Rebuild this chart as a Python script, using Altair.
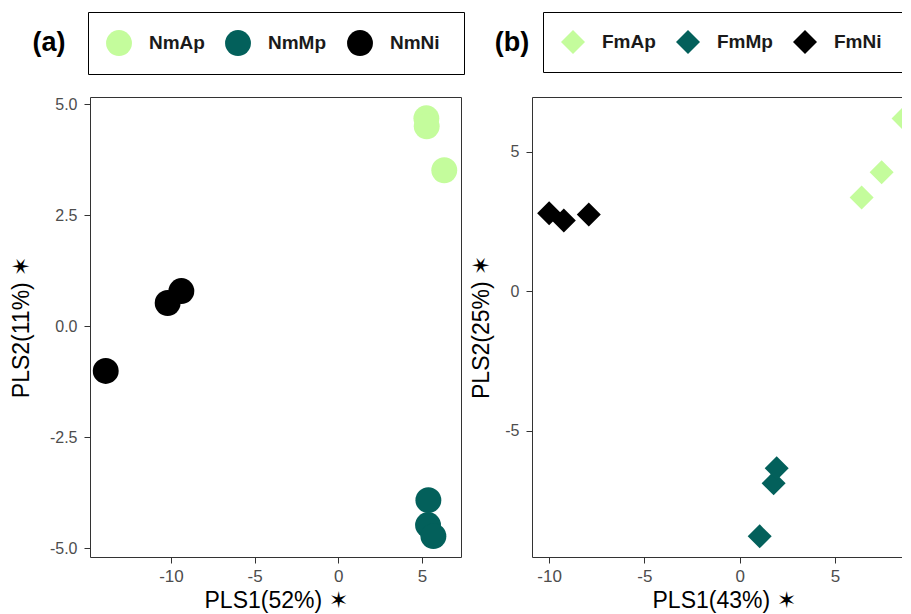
import altair as alt
import pandas as pd

# Panel (a) data
a_groups = ["NmAp", "NmAp", "NmAp", "NmMp", "NmMp", "NmMp", "NmNi", "NmNi", "NmNi"]
a_x = [5.26, 5.28, 6.33, 5.38, 5.36, 5.68, -13.9, -10.2, -9.38]
a_y = [4.68, 4.50, 3.51, -3.92, -4.48, -4.73, -1.01, 0.52, 0.79]
a_names = ["NmAp", "NmMp", "NmNi"]

# Panel (b) data
b_groups = ["FmAp", "FmAp", "FmAp", "FmMp", "FmMp", "FmMp", "FmNi", "FmNi", "FmNi"]
b_x = [6.4, 7.45, 8.6, 1.05, 1.78, 1.94, -10.0, -9.23, -7.92]
b_y = [3.37, 4.27, 6.2, -8.78, -6.88, -6.34, 2.8, 2.54, 2.76]
b_names = ["FmAp", "FmMp", "FmNi"]

colors = ["#C4FC9C", "#03605B", "#000000"]

FONT = "Liberation Sans"
HYPHEN = "replace(datum.label, '\u2212', '-')"


def panel(groups, xs, ys, names, shape, size, dom_x, dom_y, w, h,
          xticks, yticks, yfmt, xtitle, ytitle, tag, tag_dx, legend_x, clip, ytp):
    df = pd.DataFrame({"group": groups, "x": xs, "y": ys})
    pts = alt.Chart(df).mark_point(filled=True, opacity=1, shape=shape, size=size,
                                   clip=clip).encode(
        x=alt.X("x:Q",
                scale=alt.Scale(domain=dom_x, nice=False, zero=False),
                axis=alt.Axis(values=xticks, title=xtitle, format="d", labelExpr=HYPHEN,
                              labelFontSize=17, labelPadding=5, titlePadding=5)),
        y=alt.Y("y:Q",
                scale=alt.Scale(domain=dom_y, nice=False, zero=False),
                axis=alt.Axis(values=yticks, title=ytitle, format=yfmt, labelExpr=HYPHEN,
                              labelFontSize=16, labelPadding=7, titlePadding=ytp)),
        color=alt.Color("group:N",
                        scale=alt.Scale(domain=names, range=colors),
                        legend=alt.Legend(title="\u00a0", titleOrient="right",
                                          titlePadding=6, titleFontSize=19,
                                          orient="none", direction="horizontal",
                                          columns=3, legendX=legend_x, legendY=-85,
                                          symbolType=shape, symbolSize=size,
                                          symbolOpacity=1, symbolStrokeWidth=0,
                                          labelFont=FONT, labelFontSize=19,
                                          labelFontWeight="bold", labelColor="#1a1a1a",
                                          labelOffset=17, columnPadding=20,
                                          padding=18, strokeColor="#000000")),
    )
    tag_df = pd.DataFrame({"t": [tag]})
    label = alt.Chart(tag_df).mark_text(font=FONT, fontSize=27, fontWeight="bold",
                                        color="#000000", align="center",
                                        baseline="middle").encode(
        x=alt.value(tag_dx), y=alt.value(-54), text="t:N")
    return alt.layer(pts, label).properties(width=w, height=h)


pa = panel(a_groups, a_x, a_y, a_names, "circle", 670,
           [-14.84, 7.33], [-5.2, 5.16], 371, 460,
           [-10, -5, 0, 5], [-5, -2.5, 0, 2.5, 5], ".1f",
           "PLS1(52%) \u2736", "PLS2(11%) \u2736", "(a)", -41, -2, False, 16)
pb = panel(b_groups, b_x, b_y, b_names, "diamond", 576,
           [-10.9, 9.2], [-9.52, 6.97], 383, 460,
           [-10, -5, 0, 5], [-5, 0, 5], "d",
           "PLS1(43%) \u2736", "PLS2(25%) \u2736", "(b)", -20, 11, True, 11)

chart = alt.hconcat(pa, pb, spacing=5).resolve_scale(
    color="independent", x="independent", y="independent"
).properties(
    padding={"left": 1, "top": 3, "right": -14, "bottom": 0},
    background="white"
).configure_view(
    stroke="#333333", strokeWidth=1
).configure_axis(
    domain=False, grid=False,
    tickColor="#333333", tickSize=6, tickWidth=1,
    labelFont=FONT, labelColor="#4D4D4D",
    titleFont=FONT, titleFontSize=23, titleFontWeight="normal", titleColor="#000000"
)

chart.save("out.html", embed_options={"renderer": "svg", "actions": False})
